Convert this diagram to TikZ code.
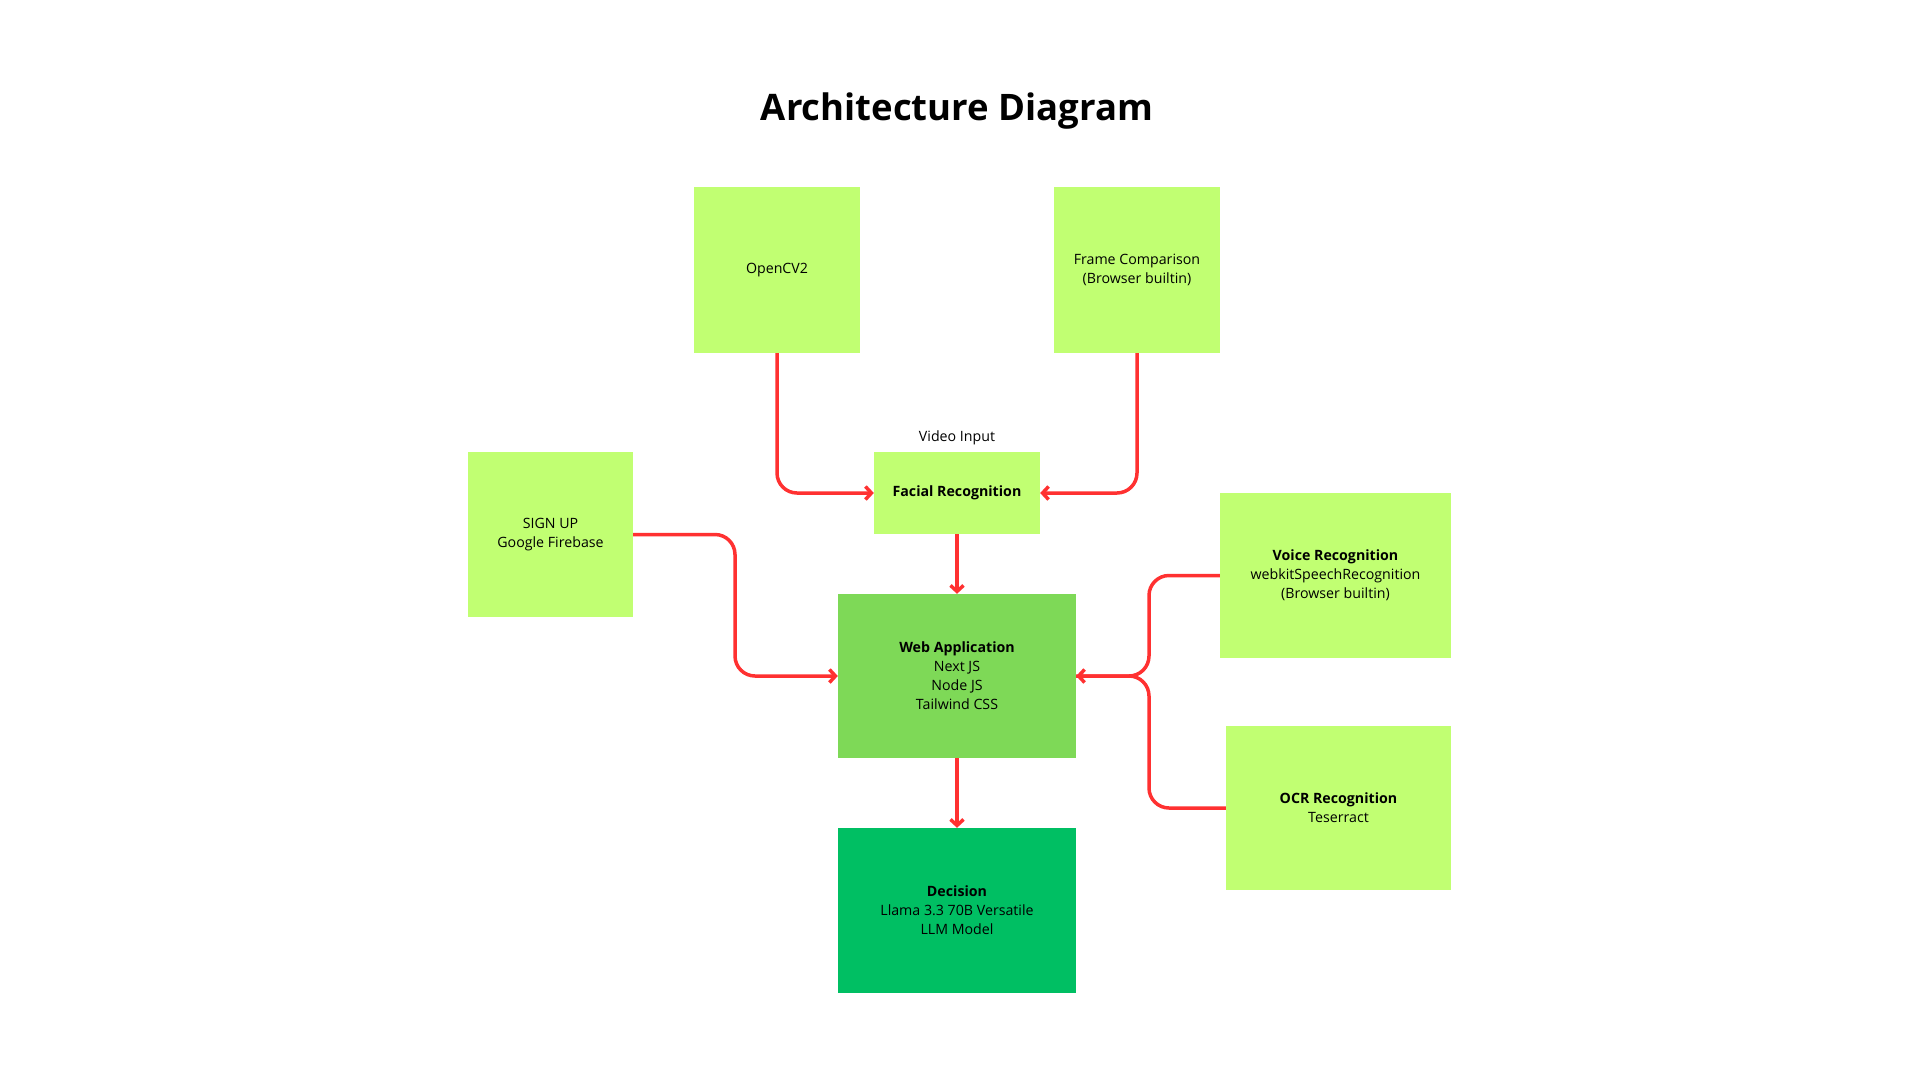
\documentclass[tikz,border=0pt]{standalone}
\usepackage{fontspec}
\setmainfont{Open Sans}
\usetikzlibrary{arrows.meta}
\definecolor{lightg}{HTML}{C1FF72}
\definecolor{midg}{HTML}{7ED957}
\definecolor{darkg}{HTML}{00BF63}
\definecolor{arrowred}{HTML}{FF3131}
\begin{document}
\begin{tikzpicture}[x=1pt,y=-1pt,
  box/.style={fill=#1,draw=none,inner sep=0pt,align=center,font=\fontsize{14.2}{19}\selectfont},
  conn/.style={draw=arrowred,line width=3.5pt,rounded corners=20pt},
  tip/.style={-{Straight Barb[length=6pt,width=13pt]}}]
\useasboundingbox[fill=white] (0,0) rectangle (1920,1080);
\node[font=\fontsize{36.5}{44}\selectfont\bfseries] (title) at (957,111) {Architecture Diagram};
\node[box=lightg,minimum width=166pt,minimum height=166pt] (opencv) at (777,270) {OpenCV2};
\node[box=lightg,minimum width=166pt,minimum height=166pt] (frame) at (1137,270) {Frame Comparison\\(Browser builtin)};
\node[box=lightg,minimum width=166pt,minimum height=82pt] (facial) at (957,493) {\textbf{Facial Recognition}};
\node[font=\fontsize{14.2}{19}\selectfont] (video) at (957,438) {Video Input};
\node[box=lightg,minimum width=165pt,minimum height=165pt] (signup) at (550.5,534.5) {SIGN UP\\Google Firebase};
\node[box=midg,minimum width=238pt,minimum height=164pt] (web) at (957,676) {\textbf{Web Application}\\Next JS\\Node JS\\Tailwind CSS};
\node[box=darkg,minimum width=238pt,minimum height=165pt] (decision) at (957,910.5) {\textbf{Decision}\\Llama 3.3 70B Versatile\\LLM Model};
\node[box=lightg,minimum width=231pt,minimum height=165pt] (voice) at (1335.5,575.5) {\textbf{Voice Recognition}\\webkitSpeechRecognition\\(Browser builtin)};
\node[box=lightg,minimum width=225pt,minimum height=164pt] (ocr) at (1338.5,808) {\textbf{OCR Recognition}\\Teserract};
\coordinate (sj) at (735,676);
\coordinate (vj) at (1149,676);
\draw[conn,tip] (opencv.south) |- (facial.west);
\draw[conn,tip] (frame.south) |- (facial.east);
\draw[conn,tip] (facial.south) -- (web.north);
\draw[conn,tip] (signup.east) -| (sj) -- (web.west);
\draw[conn] (ocr.west) -| (vj) -- (web.east);
\draw[conn,tip] (voice.west) -| (vj) -- (web.east);
\draw[conn,tip] (web.south) -- (decision.north);
\end{tikzpicture}
\end{document}
